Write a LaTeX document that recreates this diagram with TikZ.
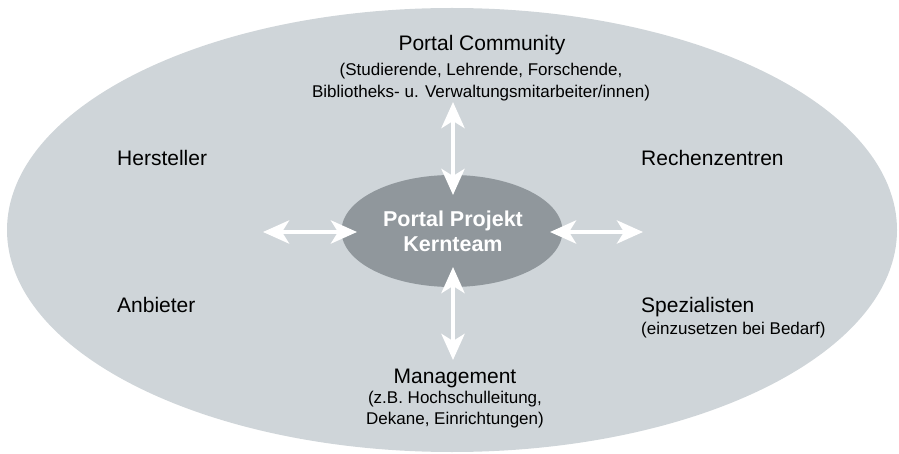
\documentclass[tikz,border=0pt]{standalone}
\usepackage{fontspec}
\setmainfont{Liberation Sans}
\usetikzlibrary{arrows.meta,shapes.geometric}
\definecolor{outerfill}{HTML}{CFD5D9}
\definecolor{innerfill}{HTML}{90979C}
\tikzset{
  biglabel/.style={font=\fontsize{21}{25}\selectfont, text=black, inner sep=0pt, anchor=base},
  smalllabel/.style={font=\fontsize{17}{22}\selectfont, text=black, inner sep=0pt, anchor=base},
  corelabel/.style={text=white, font=\fontsize{21.5}{25}\selectfont\bfseries, inner sep=0pt, anchor=base},
  linkarrow/.style={draw=white, line width=4.5pt,
    {Stealth[length=26pt,width=23pt,inset=7pt]}-{Stealth[length=26pt,width=23pt,inset=7pt]}}
}
\begin{document}
\begin{tikzpicture}[x=1pt,y=-1pt]
\useasboundingbox (0,0) rectangle (899,454);
\node[ellipse, fill=outerfill, minimum width=890pt, minimum height=444pt, inner sep=0pt] (world) at (452,230) {};
\node[ellipse, fill=innerfill, minimum width=221pt, minimum height=112pt, inner sep=0pt] (core) at (452,231) {};
\node[corelabel] (coretop) at (453,227) {Portal Projekt};
\node[corelabel] (corebot) at (453,252) {Kernteam};
% labels
\node[biglabel] (community) at (482,51) {Portal Community};
\node[smalllabel] (communitysub1) at (481,76) {(Studierende, Lehrende, Forschende,};
\node[smalllabel] (communitysub2) at (481,98) {Bibliotheks- u. Verwaltungsmitarbeiter/innen)};
\node[biglabel, anchor=base west] (hersteller) at (117,166) {Hersteller};
\node[biglabel, anchor=base west] (rechen) at (641,166) {Rechenzentren};
\node[biglabel, anchor=base west] (anbieter) at (117,312) {Anbieter};
\node[biglabel, anchor=base west] (spez) at (641,312) {Spezialisten};
\node[smalllabel, anchor=base west] (spezsub) at (641,334) {(einzusetzen bei Bedarf)};
\node[biglabel] (mgmt) at (455,383) {Management};
\node[smalllabel] (mgmtsub1) at (455,403) {(z.B. Hochschulleitung,};
\node[smalllabel] (mgmtsub2) at (455,424) {Dekane, Einrichtungen)};
% arrow endpoints
\coordinate (topa) at (453,102);
\coordinate (topb) at (453,195);
\coordinate (bota) at (453,267);
\coordinate (botb) at (453,360);
\coordinate (lefta) at (263,232);
\coordinate (leftb) at (357,232);
\coordinate (righta) at (550,232);
\coordinate (rightb) at (643,232);
\draw[linkarrow] (topa) -- (topb);
\draw[linkarrow] (bota) -- (botb);
\draw[linkarrow] (lefta) -- (leftb);
\draw[linkarrow] (righta) -- (rightb);
\end{tikzpicture}
\end{document}
